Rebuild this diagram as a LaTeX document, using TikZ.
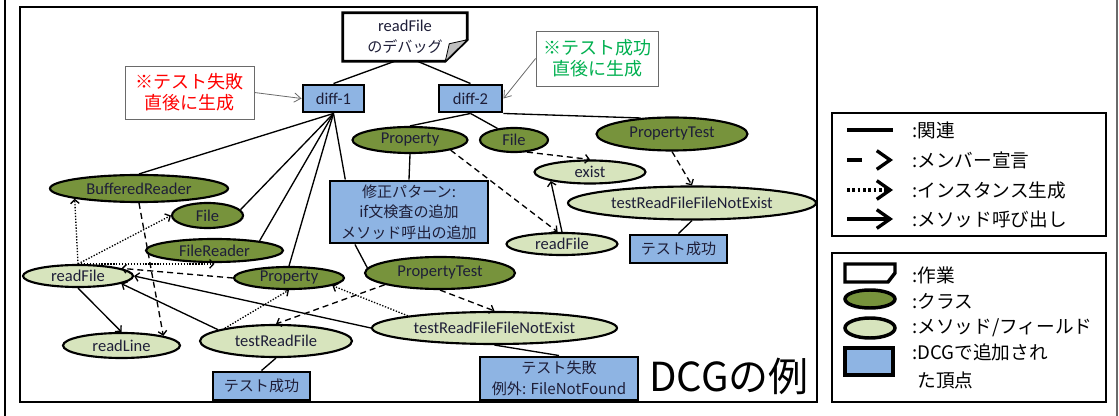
\documentclass[tikz,border=0pt]{standalone}
\usepackage{fontspec}
\setmainfont{Carlito}
\newfontfamily\jp{Noto Sans CJK JP}
\usetikzlibrary{arrows.meta,shapes.geometric,calc}
\definecolor{clsgreen}{HTML}{77933C}
\definecolor{methgreen}{HTML}{D7E4BD}
\definecolor{dcgblue}{HTML}{8EB4E3}
\definecolor{txt}{HTML}{1E1E38}
\definecolor{ngred}{HTML}{FF0000}
\definecolor{okgreen}{HTML}{00B050}
\definecolor{fold}{HTML}{BFBFBF}
\definecolor{rahmen}{HTML}{6A6A6A}
\tikzset{
  sz/.style 2 args={minimum width=#1*0.75pt,minimum height=#2*0.75pt},
  cls/.style={ellipse,draw,line width=1.6pt,fill=clsgreen,text=txt,inner sep=0pt,font=\fontsize{12.4}{14}\selectfont},
  meth/.style={cls,fill=methgreen},
  dcg/.style={rectangle,draw,line width=2.2pt,fill=dcgblue,text=txt,inner sep=0pt,align=center,font=\jp\fontsize{11.3}{15.5}\selectfont},
  notebox/.style={rectangle,draw=rahmen,line width=0.6pt,fill=white,inner sep=0pt,align=center,font=\jp\fontsize{13.5}{16}\selectfont},
  rel/.style={line width=1pt},
  callarr/.style={-{Straight Barb[length=3pt,width=6.5pt]},line width=1pt},
  memb/.style={callarr,dash pattern=on 4.5pt off 3pt},
  inst/.style={callarr,dash pattern=on 1pt off 1.2pt},
  hinweis/.style={-{Straight Barb[length=5pt,width=7pt]},rahmen,line width=0.6pt},
  legtxt/.style={anchor=west,inner sep=0pt,align=left,font=\jp\fontsize{14}{21}\selectfont},
  legrel/.style={line width=2.5pt},
  legcall/.style={legrel,-{Straight Barb[length=10pt,width=14pt]}},
  legmem/.style={legcall,dash pattern=on 11pt off 40pt},
  leginst/.style={legcall,dash pattern=on 2pt off 2pt},
}
\begin{document}
\begin{tikzpicture}[x=0.75pt,y=-0.75pt]
  \useasboundingbox (0,0) rectangle (1119,416);
  % ===== Rahmen =====
  \draw[line width=1.5pt] (5,0) -- (5,416);
  \draw[rahmen,line width=1.5pt] (1117,0) -- (1117,416);
  \draw[line width=1.5pt] (20,7) rectangle (817,402);
  \draw[line width=1.1pt] (832,113) rectangle (1106,236);
  \draw[line width=1.1pt] (832,253) rectangle (1106,402);
  % ===== Arbeitsblatt oben =====
  \node[inner sep=0pt,sz={124}{48},align=center,text=txt,font=\fontsize{12.4}{15.8}\selectfont] (dbg) at (405,37)
    {readFile\\{\jp\fontsize{11.3}{15.8}\selectfont のデバッグ}};
  \draw[line width=2pt] (dbg.north west) -- (dbg.north east) -- ($(dbg.north east)+(0,27)$) coordinate (f1)
    -- ($(dbg.south east)+(-22,0)$) coordinate (f2) -- (dbg.south west) -- cycle;
  \filldraw[fill=fold,line width=0.6pt] (f1) -- (f2) -- ($(f1)+(-18,4)$) -- cycle;
  % ===== Hinweise und diff-Knoten =====
  \node[notebox,text=ngred,sz={129}{53}] (ng) at (189.5,92.5) {※テスト失敗\\直後に生成};
  \node[notebox,text=okgreen,sz={122}{55}] (ok) at (597,58.5) {※テスト成功\\直後に生成};
  \node[dcg,sz={61}{27},font=\fontsize{12.4}{14}\selectfont] (diff1) at (333.5,98.5) {diff-1};
  \node[dcg,sz={63}{27},font=\fontsize{12.4}{14}\selectfont] (diff2) at (470.5,98.5) {diff-2};
  % ===== Klassen, Methoden, Zusatzknoten =====
  \node[cls,sz={115}{26}] (propA) at (410,140) {Property};
  \node[cls,sz={68}{24}] (fileA) at (514,140) {File};
  \node[cls,sz={151}{33}] (ptestA) at (672,134) {PropertyTest};
  \node[meth,sz={111}{23}] (existM) at (590,172) {exist};
  \node[meth,sz={248}{33}] (tnotA) at (692,203) {testReadFileFileNotExist};
  \node[dcg,sz={97}{28}] (okA) at (678.5,249) {テスト成功};
  \node[meth,sz={111}{22}] (readA) at (562,244) {readFile};
  \node[dcg,sz={158}{62}] (fix) at (409,212) {修正パターン:\\if文検査の追加\\メソッド呼出の追加};
  \node[cls,sz={178}{27}] (bufr) at (139,188.5) {BufferedReader};
  \node[cls,sz={71}{25}] (fileB) at (207.5,215.5) {File};
  \node[cls,sz={137}{23}] (frdr) at (214.5,250.5) {FileReader};
  \node[meth,sz={110}{22}] (readB) at (78,276) {readFile};
  \node[cls,sz={110}{22}] (propB) at (289,278) {Property};
  \node[cls,sz={150}{32}] (ptestB) at (440,273) {PropertyTest};
  \node[meth,sz={245}{32}] (tnotB) at (494.5,328) {testReadFileFileNotExist};
  \node[meth,sz={152}{32}] (trf) at (276,341) {testReadFile};
  \node[meth,sz={117}{25}] (rline) at (121.5,345.5) {readLine};
  \node[dcg,sz={97}{28}] (okB) at (261.5,386) {テスト成功};
  \node[dcg,sz={158}{43}] (ngB) at (559,378.5) {テスト失敗\\例外: FileNotFound};
  \node[inner sep=0pt,font=\jp\fontsize{30}{32}\selectfont] (titel) at (729,376) {DCGの例};
  % ===== Kanten =====
  \draw[hinweis] (ng.east) -- (diff1.west);
  \draw[hinweis] (ok.west) -- (diff2.east);
  \draw[rel] (dbg.-113) -- (diff1.north);
  \draw[rel] (dbg.-63) -- (diff2.north);
  \foreach \ziel in {bufr.north, fileB.10, frdr.12, propB.north, fix.153}
    \draw[rel] (diff1.south) -- (\ziel);
  \draw[rel] (diff2.south) -- (propA.north);
  \draw[rel] (diff2.south) -- (fileA.145);
  \draw[rel] (diff2.south east) -- (ptestA.153);
  \draw[rel] (propA.south) -- (fix.north);
  \draw[rel] (fix.-149) -- (ptestB.176);
  \draw[rel] (tnotA.south) -- (okA.north);
  \draw[rel] (trf.south) -- (okB.north);
  \draw[rel] (tnotB.south) -- (ngB.north);
  \draw[memb] (fileA.-43) -- (existM.north);
  \draw[memb] (propA.-14) -- (readA.110);
  \draw[memb] (ptestA.south) -- (tnotA.north);
  \draw[memb] (bufr.south) -- (rline.13);
  \draw[memb] (propB.west) -- (readB.10);
  \draw[memb] (ptestB.-168) -- (trf.north);
  \draw[memb] (ptestB.south) -- (tnotB.north);
  \draw[inst] (readB.north) -- (bufr.-171);
  \draw[inst] (readB.north) -- (fileB.west);
  \draw[inst] (readB.north) -- (readB.north -| frdr.south);
  \draw[inst] (trf.166) -- (propB.south);
  \draw[inst] (tnotB.172) -- (propB.-10);
  \draw[callarr] (readB.south) -- (rline.north);
  \draw[callarr] (trf.169) -- (readB.-10);
  \draw[callarr] (tnotB.west) -- (readB.east);
  \draw[callarr] (readA.north) -- (existM.-167);
  % ===== Legende: Kanten =====
  \foreach \yy/\sty/\wort in {130/legrel/関連, 160/legmem/メンバー宣言, 190/leginst/インスタンス生成, 219/legcall/メソッド呼び出し}{
    \coordinate (la\yy) at (847,\yy);
    \coordinate (lb\yy) at (893,\yy);
    \draw[\sty] (la\yy) -- (lb\yy);
    \node[legtxt] (lt\yy) at (912,\yy) {:\wort};}
  % ===== Legende: Knoten =====
  \draw[line width=2.6pt] (845,264) -- (895,264) -- (895,273) -- (888,282) -- (845,282) -- cycle;
  \node[cls,line width=2.6pt,sz={50}{18}] (lgcls) at (870,299) {};
  \node[meth,line width=2.6pt,sz={50}{20}] (lgmeth) at (870,328) {};
  \node[dcg,line width=2.6pt,sz={48}{27}] (lgdcg) at (869,361.5) {};
  \node[legtxt] (lt1) at (912,275) {:作業};
  \node[legtxt] (lt2) at (912,301) {:クラス};
  \node[legtxt] (lt3) at (912,328) {:メソッド/フィールド};
  \node[legtxt] (lt4) at (912,366) {:DCGで追加され\\\hphantom{:}た頂点};
\end{tikzpicture}
\end{document}
